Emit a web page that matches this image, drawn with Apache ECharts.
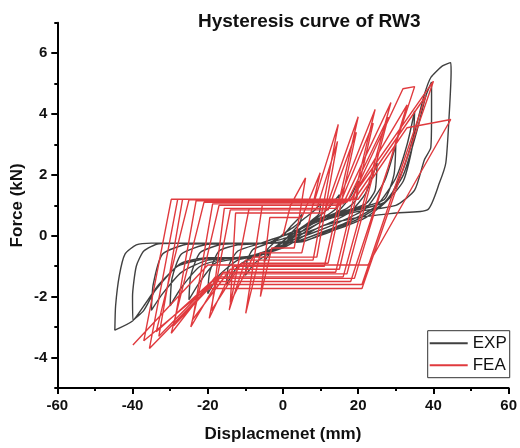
<!DOCTYPE html>
<html>
<head>
<meta charset="utf-8">
<script src="https://cdn.jsdelivr.net/npm/echarts@6/dist/echarts.min.js"></script>
<style>html,body{margin:0;padding:0;background:#fff}#c{width:520px;height:448px}</style>
</head>
<body>
<div id="c"></div>
<script>
// ---- data (displacement in mm, force in kN) ----
const titleText = 'Hysteresis curve of RW3';
const xName = 'Displacmenet (mm)';
const yName = 'Force (kN)';
const seriesNames = ['EXP', 'FEA'];
const xTicks = [-60, -40, -20, 0, 20, 40, 60];
const yTicks = [-4, -2, 0, 2, 4, 6];

const expDisp = [
  0,2,4,5,4.5,3,0,-3,-5,-4.5,-3,0,
  3,6,8.5,10,9.5,7,3,0,-4,-7.5,-10,-9.5,-8,-4,0,
  4,8,12,15,14.5,12,7,2,-3,-8,-12,-15,-14.5,-12,-6,0,
  5,10,15,18,20,19.5,17,12,6,0,-6,-12,-17,-20,-19.5,-17,-12,-5,0,
  6,12,18,22,25,24.5,22,16,8,2,-5,-12,-18,-22,-25,-24.5,-22,-16,-5,2,
  8,15,22,27,30,29.5,27,20,10,3,-5,-15,-22,-27,-30,-29.5,-27,-20,-8,3,
  10,18,25,30,33,35,34.5,32,27,18,8,0,-10,-20,-27,-32,-35,-34.5,-32,-25,-10,5,
  12,20,27,32,35.5,38,39.5,39.5,39.3,37.6,35,30,20,10,0,-10,-20,-28,-34,-37,-39.9,-40,-39,-37,-33,-20,-5,6,
  14,22,28,32,35,37.5,39.3,42.4,44.6,44.7,44.2,43.3,41.6,38.5,30,20,10,0,-10,-20,-27,-33,-37,-40,-44.7,-44.5,-43.5,-42,-39,-35,-20
];
const expForce = [
  0,0.3,0.55,0.7,0.4,0.2,-0.2,-0.5,-0.85,-0.5,-0.3,0.05,
  0.3,0.6,0.85,1.05,0.7,0.45,0.1,-0.3,-0.6,-0.9,-1.3,-0.8,-0.45,-0.25,0,
  0.2,0.5,0.9,1.35,0.95,0.7,0.4,0,-0.45,-0.7,-1.0,-1.6,-1.0,-0.5,-0.25,0,
  0.15,0.45,0.85,1.3,1.8,1.2,0.9,0.65,0.35,-0.3,-0.65,-0.8,-1.3,-1.9,-1.2,-0.5,-0.3,-0.25,-0.1,
  0.1,0.4,0.8,1.4,2.4,1.5,1.05,0.8,0.5,0,-0.6,-0.75,-0.9,-1.5,-2.1,-1.3,-0.55,-0.28,-0.25,-0.15,
  0.1,0.45,0.9,1.8,3.0,2.0,1.2,0.9,0.55,0.1,-0.6,-0.75,-1.0,-1.7,-2.3,-1.4,-0.6,-0.28,-0.25,-0.2,
  0.1,0.5,1.0,1.9,3.0,4.1,3.0,1.8,1.1,0.8,0.4,-0.3,-0.7,-0.8,-1.2,-1.9,-2.45,-1.6,-0.6,-0.27,-0.25,-0.2,
  0.15,0.55,1.1,2.0,3.4,4.6,5.05,4.0,2.9,2.5,1.5,1.0,0.8,0.45,-0.35,-0.72,-0.75,-1.0,-1.8,-2.45,-2.77,-2.0,-1.0,-0.5,-0.26,-0.24,-0.24,-0.15,
  0.2,0.6,1.2,2.2,3.4,4.6,5.2,5.58,5.69,5.4,4.0,2.4,1.74,0.86,0.75,0.6,0.3,-0.4,-0.72,-0.72,-0.9,-1.6,-2.3,-2.8,-3.1,-2.3,-1.3,-0.6,-0.3,-0.24,-0.24
];
const feaDisp = [
  0,2,6,3,-3,-6,
  -3.5,5,9.9,5,-6,-9.9,
  -5.5,8,14.7,8,-10,-14.3,
  -9,9,14.5,9,-8,-14,
  -12.6,11,20,11,-13,-19.6,
  -14,12,19.5,12,-11,-19,
  -15.6,14,24.5,14,-16,-24.5,
  -17,15,24,15,-14,-24,
  -18.7,16,28.7,16,-18,-29.7,
  -21,17,28,17,-16,-29,
  -23.1,18,31.9,35,18,-19,-33.7,
  -25,18,33,19,-18,-33,
  -26.7,18,40,21,-20,-35.5,
  -28,19,38,21,-19,-37,
  -29.7,20,33,44.6,22.6,-20,-39.9
];
const feaForce = [
  0,1.0,1.9,-0.4,-0.4,-2.0,
  0.6,0.6,2.07,-0.56,-0.56,-2.55,
  1.0,1.0,3.66,-0.8,-0.8,-2.44,
  0.9,0.9,3.1,-0.7,-0.7,-2.2,
  0.75,0.75,3.91,-1.0,-1.0,-2.71,
  0.85,0.85,3.4,-0.9,-0.9,-2.45,
  0.9,0.9,4.15,-1.2,-1.2,-2.99,
  1.0,1.0,3.7,-1.1,-1.1,-2.75,
  1.05,1.05,4.38,-1.35,-1.35,-3.2,
  1.1,1.1,3.9,-1.25,-1.25,-2.95,
  1.15,1.15,4.83,4.9,-1.5,-1.5,-3.15,
  1.18,1.18,4.3,-1.4,-1.4,-3.3,
  1.2,1.2,5.08,-1.73,-1.73,-3.7,
  1.2,1.2,4.6,-1.6,-1.6,-3.45,
  1.2,1.2,3.55,3.82,-0.96,-0.96,-3.59
];

// ---- chart ----
const zip = (xs, ys) => xs.map((x, i) => [x, ys[i]]);
const FONT = '"Liberation Sans", Arial, sans-serif';
const chart = echarts.init(document.getElementById('c'), null, {renderer: 'canvas'});
const G = {left: 57.3, top: 22.7, width: 454.4, height: 365.6};
const yMin = -5, yMax = 7;
const pxPer = G.height / (yMax - yMin);
const g2top = G.top + (yMax - yTicks[yTicks.length - 1]) * pxPer;
const g2h = (yTicks[yTicks.length - 1] - yTicks[0]) * pxPer;

chart.setOption({
  animation: false,
  backgroundColor: '#fff',
  title: {
    text: titleText, left: 193, top: 7,
    textStyle: {fontFamily: FONT, fontSize: 19, fontWeight: 'bold', color: '#111'}
  },
  legend: {
    orient: 'vertical', left: 427.7, top: 330.7,
    padding: [4, 3, 4, 2], itemGap: 5, itemWidth: 38, itemHeight: 2, icon: 'rect',
    borderColor: '#333', borderWidth: 1, borderRadius: 0,
    textStyle: {fontFamily: FONT, fontSize: 17, color: '#111', lineHeight: 16},
    data: seriesNames
  },
  grid: [
    {left: G.left, top: G.top, width: G.width, height: G.height, containLabel: false},
    {left: G.left, top: g2top, width: G.width, height: g2h, containLabel: false}
  ],
  xAxis: [
    {
      type: 'value', gridIndex: 0, min: xTicks[0], max: xTicks[xTicks.length - 1], interval: 20,
      name: xName, nameLocation: 'middle', nameGap: 38,
      nameTextStyle: {fontFamily: FONT, fontSize: 17, fontWeight: 'bold', color: '#111'},
      axisLine: {onZero: false, lineStyle: {color: '#000', width: 2}},
      axisTick: {length: 6, lineStyle: {width: 2, color: '#000'}},
      minorTick: {show: true, splitNumber: 2, length: 3, lineStyle: {width: 2, color: '#000'}},
      axisLabel: {margin: 10, fontFamily: FONT, fontSize: 15, fontWeight: 'bold', color: '#111'},
      splitLine: {show: false}
    },
    {type: 'value', gridIndex: 1, min: -60, max: 60, show: false}
  ],
  yAxis: [
    {
      type: 'value', gridIndex: 0, min: yMin, max: yMax, interval: 1,
      name: yName, nameLocation: 'middle', nameGap: 31,
      nameTextStyle: {fontFamily: FONT, fontSize: 17, fontWeight: 'bold', color: '#111'},
      axisLine: {onZero: false, lineStyle: {color: '#000', width: 2}},
      axisTick: {length: 3, lineStyle: {width: 2, color: '#000'}},
      axisLabel: {show: false},
      splitLine: {show: false}
    },
    {
      type: 'value', gridIndex: 1, min: yTicks[0], max: yTicks[yTicks.length - 1], interval: 2,
      axisLine: {show: false, onZero: false},
      axisTick: {length: 6, lineStyle: {width: 2, color: '#000'}},
      axisLabel: {margin: 10, fontFamily: FONT, fontSize: 15, fontWeight: 'bold', color: '#111'},
      splitLine: {show: false}
    }
  ],
  series: [
    {
      name: seriesNames[0], type: 'line', xAxisIndex: 0, yAxisIndex: 0,
      data: zip(expDisp, expForce), symbol: 'none', showSymbol: false, smooth: 0.2,
      lineStyle: {color: '#404040', width: 1.4}, itemStyle: {color: '#404040'}
    },
    {
      name: seriesNames[1], type: 'line', xAxisIndex: 0, yAxisIndex: 0,
      data: zip(feaDisp, feaForce), symbol: 'none', showSymbol: false,
      lineStyle: {color: '#e03a3e', width: 1.4}, itemStyle: {color: '#e03a3e'}
    }
  ]
});
</script>
</body>
</html>
